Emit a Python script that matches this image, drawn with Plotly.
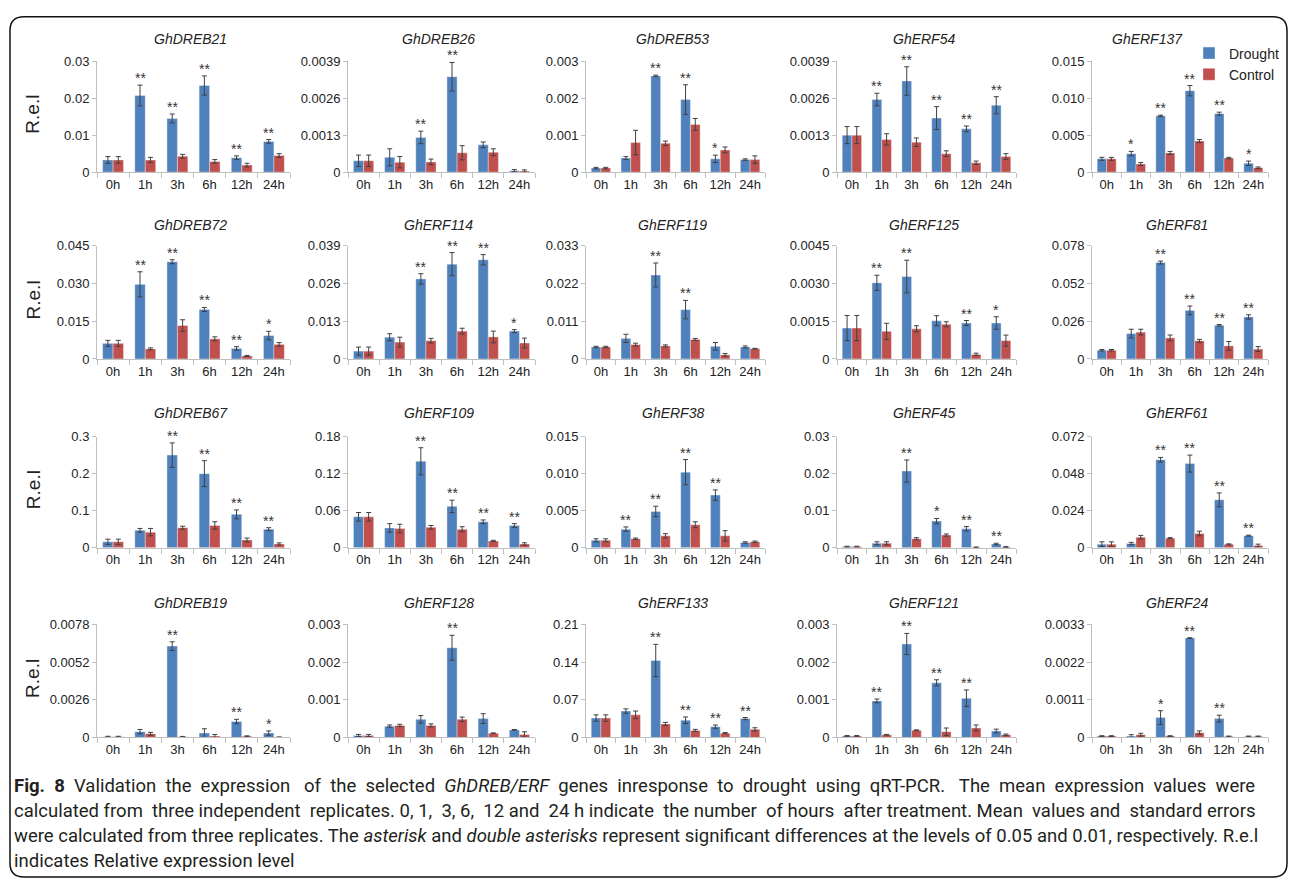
import plotly.graph_objects as go

W, H = 1290, 887

# ---------------- data ----------------
hours = ["0h", "1h", "3h", "6h", "12h", "24h"]

genes = ["GhDREB21", "GhDREB26", "GhDREB53", "GhERF54", "GhERF137",
         "GhDREB72", "GhERF114", "GhERF119", "GhERF125", "GhERF81",
         "GhDREB67", "GhERF109", "GhERF38", "GhERF45", "GhERF61",
         "GhDREB19", "GhERF128", "GhERF133", "GhERF121", "GhERF24"]

y_max = [0.03, 0.0039, 0.003, 0.0039, 0.015,
         0.045, 0.039, 0.033, 0.0045, 0.078,
         0.3, 0.18, 0.015, 0.03, 0.072,
         0.0078, 0.003, 0.21, 0.003, 0.0033]

y_tick_text = [
    ["0", "0.01", "0.02", "0.03"], ["0", "0.0013", "0.0026", "0.0039"],
    ["0", "0.001", "0.002", "0.003"], ["0", "0.0013", "0.0026", "0.0039"],
    ["0", "0.005", "0.010", "0.015"],
    ["0", "0.015", "0.030", "0.045"], ["0", "0.013", "0.026", "0.039"],
    ["0", "0.011", "0.022", "0.033"], ["0", "0.0015", "0.0030", "0.0045"],
    ["0", "0.026", "0.052", "0.078"],
    ["0", "0.1", "0.2", "0.3"], ["0", "0.06", "0.12", "0.18"],
    ["0", "0.005", "0.010", "0.015"], ["0", "0.01", "0.02", "0.03"],
    ["0", "0.024", "0.048", "0.072"],
    ["0", "0.0026", "0.0052", "0.0078"], ["0", "0.001", "0.002", "0.003"],
    ["0", "0.07", "0.14", "0.21"], ["0", "0.001", "0.002", "0.003"],
    ["0", "0.0011", "0.0022", "0.0033"],
]

drought = [
    [0.0033, 0.0207, 0.0145, 0.0234, 0.0039, 0.0083],
    [0.0004, 0.00052, 0.00122, 0.00335, 0.00096, 0.00005],
    [0.00011, 0.00038, 0.0026, 0.00196, 0.00036, 0.00034],
    [0.0013, 0.00255, 0.0032, 0.0019, 0.00152, 0.00235],
    [0.0018, 0.0025, 0.0076, 0.011, 0.0079, 0.0012],
    [0.0062, 0.0297, 0.0387, 0.0197, 0.0042, 0.0093],
    [0.0027, 0.0075, 0.0276, 0.0327, 0.0342, 0.0096],
    [0.0035, 0.006, 0.0245, 0.0144, 0.0037, 0.0035],
    [0.00123, 0.00303, 0.00328, 0.00152, 0.00143, 0.00143],
    [0.006, 0.0175, 0.0665, 0.0335, 0.0232, 0.029],
    [0.016, 0.047, 0.25, 0.2, 0.09, 0.05],
    [0.05, 0.032, 0.14, 0.067, 0.042, 0.036],
    [0.001, 0.0025, 0.0049, 0.0102, 0.0071, 0.0007],
    [0.0003, 0.0012, 0.0207, 0.0072, 0.0051, 0.001],
    [0.0023, 0.0027, 0.057, 0.0545, 0.031, 0.0078],
    [0.00005, 0.0004, 0.0063, 0.0003, 0.0011, 0.0003],
    [0.00005, 0.0003, 0.00048, 0.00238, 0.0005, 0.0002],
    [0.036, 0.049, 0.143, 0.032, 0.02, 0.035],
    [0.00004, 0.00097, 0.00248, 0.00145, 0.00104, 0.00017],
    [0.00004, 0.00004, 0.00058, 0.0029, 0.00055, 0.00003],
]

drought_err = [
    [0.0009, 0.0028, 0.0012, 0.0026, 0.0005, 0.0005],
    [0.0002, 0.0003, 0.00022, 0.0005, 0.0001, 0.00004],
    [0.00002, 0.00004, 0.00002, 0.0004, 0.0001, 0.00002],
    [0.0003, 0.00022, 0.0005, 0.0004, 0.0001, 0.0003],
    [0.0002, 0.0003, 0.0001, 0.0007, 0.0002, 0.0003],
    [0.0012, 0.005, 0.0008, 0.0008, 0.0007, 0.0017],
    [0.0014, 0.0012, 0.0018, 0.004, 0.0018, 0.0005],
    [0.0002, 0.0012, 0.0035, 0.0027, 0.0011, 0.0003],
    [0.0005, 0.0003, 0.00065, 0.0002, 0.0001, 0.00025],
    [0.0005, 0.003, 0.001, 0.003, 0.0005, 0.0015],
    [0.007, 0.005, 0.033, 0.035, 0.012, 0.004],
    [0.007, 0.007, 0.022, 0.01, 0.003, 0.003],
    [0.0002, 0.0003, 0.0007, 0.0017, 0.0007, 0.0001],
    [0.0001, 0.0004, 0.003, 0.0007, 0.0006, 0.0002],
    [0.0015, 0.0008, 0.0015, 0.0055, 0.0045, 0.0003],
    [0.00003, 0.00015, 0.0003, 0.0003, 0.00015, 0.00015],
    [0.00003, 0.00003, 0.0001, 0.00033, 0.00013, 0.00001],
    [0.006, 0.004, 0.03, 0.006, 0.003, 0.002],
    [0.00001, 0.00005, 0.00028, 0.00008, 0.00022, 0.00005],
    [0.00001, 0.00004, 0.0002, 0.00001, 0.0001, 0.00001],
]

control = [
    [0.0033, 0.0033, 0.0043, 0.0029, 0.0019, 0.0045],
    [0.0004, 0.00035, 0.00036, 0.00068, 0.0007, 0.00004],
    [0.00011, 0.0008, 0.00078, 0.00129, 0.0006, 0.00034],
    [0.0013, 0.00115, 0.00105, 0.00065, 0.00033, 0.00055],
    [0.0018, 0.0011, 0.0026, 0.0042, 0.0019, 0.0006],
    [0.0062, 0.004, 0.0133, 0.008, 0.0012, 0.0058],
    [0.0027, 0.0058, 0.0063, 0.0096, 0.0076, 0.0055],
    [0.0035, 0.0042, 0.0038, 0.0057, 0.0012, 0.003],
    [0.00123, 0.0011, 0.0012, 0.00138, 0.00018, 0.00073],
    [0.006, 0.0185, 0.0145, 0.0125, 0.009, 0.0068],
    [0.016, 0.042, 0.054, 0.06, 0.021, 0.01],
    [0.05, 0.031, 0.033, 0.03, 0.011, 0.006],
    [0.001, 0.0012, 0.0016, 0.0031, 0.0016, 0.0008],
    [0.0003, 0.0012, 0.0024, 0.0034, 0.0001, 0.0002],
    [0.0023, 0.0068, 0.0062, 0.0092, 0.0022, 0.0015],
    [0.00005, 0.00025, 0.00005, 0.0001, 0.00008, 0.00002],
    [0.00005, 0.00032, 0.00032, 0.00048, 0.00011, 0.00008],
    [0.036, 0.042, 0.025, 0.013, 0.008, 0.015],
    [0.00004, 0.00007, 0.00019, 0.00015, 0.00025, 0.00007],
    [0.00004, 0.00008, 0.00004, 0.00014, 0.00003, 0.00003],
]

control_err = [
    [0.0009, 0.0007, 0.0005, 0.0005, 0.0005, 0.0005],
    [0.0002, 0.0002, 0.0001, 0.00025, 0.00012, 0.00004],
    [0.00002, 0.00033, 0.00006, 0.00016, 0.00008, 0.0001],
    [0.0003, 0.0002, 0.00015, 0.0001, 0.00006, 0.0001],
    [0.0002, 0.0002, 0.0002, 0.0002, 0.0001, 0.0001],
    [0.0012, 0.0004, 0.0023, 0.0008, 0.0002, 0.0007],
    [0.0014, 0.0017, 0.0008, 0.001, 0.002, 0.0017],
    [0.0002, 0.0004, 0.0003, 0.0003, 0.0004, 0.0001],
    [0.0005, 0.00032, 0.00012, 0.0001, 0.00005, 0.00022],
    [0.0005, 0.002, 0.002, 0.001, 0.003, 0.0017],
    [0.007, 0.01, 0.004, 0.01, 0.005, 0.003],
    [0.007, 0.007, 0.003, 0.004, 0.001, 0.002],
    [0.0002, 0.0001, 0.0003, 0.0004, 0.0007, 0.0001],
    [0.0001, 0.0004, 0.0003, 0.0003, 0.0001, 0.0001],
    [0.0015, 0.0012, 0.0003, 0.0015, 0.0003, 0.0008],
    [0.00003, 0.0001, 0.00002, 0.0001, 0.00003, 0.00001],
    [0.00003, 0.00003, 0.00004, 0.00006, 0.00001, 0.00007],
    [0.006, 0.007, 0.003, 0.002, 0.001, 0.003],
    [0.00001, 0.00001, 0.00001, 0.0001, 0.00008, 0.00002],
    [0.00001, 0.00004, 0.00001, 0.00005, 0.00001, 0.00001],
]

signif = [
    ["", "**", "**", "**", "**", "**"],
    ["", "", "**", "**", "", ""],
    ["", "", "**", "**", "*", ""],
    ["", "**", "**", "**", "**", "**"],
    ["", "*", "**", "**", "**", "*"],
    ["", "**", "**", "**", "**", "*"],
    ["", "", "**", "**", "**", "*"],
    ["", "", "**", "**", "", ""],
    ["", "**", "**", "", "**", "*"],
    ["", "", "**", "**", "**", "**"],
    ["", "", "**", "**", "**", "**"],
    ["", "", "**", "**", "**", "**"],
    ["", "**", "**", "**", "**", ""],
    ["", "", "**", "*", "**", "**"],
    ["", "", "**", "**", "**", "**"],
    ["", "", "**", "", "**", "*"],
    ["", "", "", "**", "", ""],
    ["", "", "**", "**", "**", "**"],
    ["", "**", "**", "**", "**", ""],
    ["", "", "*", "**", "**", ""],
]

series_names = ["Drought", "Control"]

caption_lines = [
    "<b>Fig. 8</b> Validation the expression of the selected <i>GhDREB/ERF</i> genes inresponse to drought using qRT-PCR. The mean expression values were",
    "calculated from three independent replicates. 0, 1, 3, 6, 12 and 24 h indicate the number of hours after treatment. Mean values and standard errors",
    "were calculated from three replicates. The <i>asterisk</i> and <i>double asterisks</i> represent significant differences at the levels of 0.05 and 0.01, respectively. R.e.l",
    "indicates Relative expression level",
]

# ---------------- layout constants (pixels) ----------------
BLUE = "#4F81BD"
RED = "#C0504D"
AXIS_GRAY = "#BFBFBF"
BARGAP = 0.35
FONT = "Arial"
CAP_FONT = "Roboto"
CAP_SIZE = 18.5

col_px = [(97, 290), (348, 535), (586, 765), (837, 1016), (1092, 1268)]
row_px = [(55, 168), (243, 358), (437, 550), (628, 743)]
title_y_px = [33, 222, 413, 606]
title_dx = {4: -30}          # GhERF137 title sits left (legend beside it)
cap_y = [792, 818, 843, 869]
cap_extra_spaces = [21, 10, 0, 0]   # extra word spacing to justify lines


def fx(p):
    return p / W


def fy(p):
    return 1 - p / H


def justify(line, extra):
    words = line.split(" ")
    gaps = len(words) - 1
    if extra <= 0 or gaps <= 0:
        return line
    out = words[0]
    for g in range(gaps):
        n = round((g + 1) * extra / gaps) - round(g * extra / gaps)
        out += " " + "\u00a0" * n + words[g + 1]
    return out


fig = go.Figure()
annotations = []

for i, gene in enumerate(genes):
    r, c = divmod(i, 5)
    k = i + 1
    xa = "x" if k == 1 else f"x{k}"
    ya = "y" if k == 1 else f"y{k}"
    x0, x1 = col_px[c]
    y0, y1 = row_px[r]

    fig.add_trace(go.Bar(
        x=hours, y=drought[i], name=series_names[0], xaxis=xa, yaxis=ya,
        marker=dict(color=BLUE, line=dict(color="rgba(255,255,255,0.45)", width=0.8)),
        error_y=dict(type="data", array=drought_err[i], color="#404040", thickness=1, width=2.5),
        showlegend=(i == 0), offsetgroup="d",
    ))
    fig.add_trace(go.Bar(
        x=hours, y=control[i], name=series_names[1], xaxis=xa, yaxis=ya,
        marker=dict(color=RED, line=dict(color="rgba(255,255,255,0.45)", width=0.8)),
        error_y=dict(type="data", array=control_err[i], color="#404040", thickness=1, width=2.5),
        showlegend=(i == 0), offsetgroup="c",
    ))

    xkey = "xaxis" if k == 1 else f"xaxis{k}"
    ykey = "yaxis" if k == 1 else f"yaxis{k}"
    fig.layout[xkey] = dict(
        domain=[fx(x0), fx(x1)], anchor=ya, type="category",
        showline=True, linecolor=AXIS_GRAY, linewidth=1,
        ticks="outside", tickson="boundaries", ticklen=5, tickcolor=AXIS_GRAY,
        showgrid=False, zeroline=False, tickangle=0,
        tickfont=dict(family=FONT, size=13, color="#222"),
    )
    fig.layout[ykey] = dict(
        domain=[fy(y1), fy(y0)], anchor=xa, range=[0, y_max[i]],
        tickvals=[y_max[i] * t / 3 for t in range(4)], ticktext=y_tick_text[i],
        showline=True, linecolor=AXIS_GRAY, linewidth=1,
        ticks="outside", ticklen=4, tickcolor=AXIS_GRAY,
        showgrid=False, zeroline=False,
        tickfont=dict(family=FONT, size=13, color="#222"),
    )

    # subplot title
    annotations.append(dict(
        x=fx((x0 + x1) / 2 - 3 + title_dx.get(i, 0)), y=fy(title_y_px[r]),
        xref="paper", yref="paper",
        text=f"<i>{gene}</i>", showarrow=False, xanchor="center", yanchor="middle",
        font=dict(family=FONT, size=14, color="#222"),
    ))

    # significance marks above drought bars
    cat_px = (x1 - x0) / len(hours)
    shift = -cat_px * (1 - BARGAP) / 4
    for j, s in enumerate(signif[i]):
        if s:
            annotations.append(dict(
                x=hours[j], y=drought[i][j] + drought_err[i][j], xref=xa, yref=ya,
                text=s, showarrow=False, xanchor="center", yanchor="bottom",
                xshift=shift, yshift=-3,
                font=dict(family=FONT, size=14, color="#333"),
            ))

# R.e.l labels for first column
for r in range(4):
    y0, y1 = row_px[r]
    annotations.append(dict(
        x=fx(33), y=fy((y0 + y1) / 2 - 2), xref="paper", yref="paper",
        text="R.e.l", textangle=-90, showarrow=False,
        xanchor="center", yanchor="middle",
        font=dict(family=FONT, size=19, color="#222"),
    ))

# caption
for line, yy, ex in zip(caption_lines, cap_y, cap_extra_spaces):
    annotations.append(dict(
        x=fx(12), y=fy(yy), xref="paper", yref="paper", text=justify(line, ex),
        showarrow=False, xanchor="left", yanchor="middle", align="left",
        font=dict(family=CAP_FONT, size=CAP_SIZE, color="#231f20"),
    ))

# rounded frame
L, T, R, B, rad = 10, 10, 1287, 885, 14
path = (f"M {fx(L)},{fy(B - rad)} L {fx(L)},{fy(T + rad)} "
        f"Q {fx(L)},{fy(T)} {fx(L + rad)},{fy(T)} "
        f"L {fx(R - rad)},{fy(T)} Q {fx(R)},{fy(T)} {fx(R)},{fy(T + rad)} "
        f"L {fx(R)},{fy(B - rad)} Q {fx(R)},{fy(B)} {fx(R - rad)},{fy(B)} "
        f"L {fx(L + rad)},{fy(B)} Q {fx(L)},{fy(B)} {fx(L)},{fy(B - rad)} Z")

fig.update_layout(
    width=W, height=H,
    margin=dict(l=0, r=0, t=0, b=0),
    paper_bgcolor="white", plot_bgcolor="white",
    barmode="group", bargap=BARGAP, bargroupgap=0,
    annotations=annotations,
    shapes=[dict(type="path", path=path, xref="paper", yref="paper",
                 line=dict(color="#111", width=1.5), layer="below")],
    legend=dict(x=fx(1189), y=fy(31), xanchor="left", yanchor="top",
                bgcolor="rgba(0,0,0,0)", font=dict(family=FONT, size=14, color="#222"),
                itemwidth=30, tracegroupgap=0),
    font=dict(family=FONT),
)

fig.write_html("out.html")
